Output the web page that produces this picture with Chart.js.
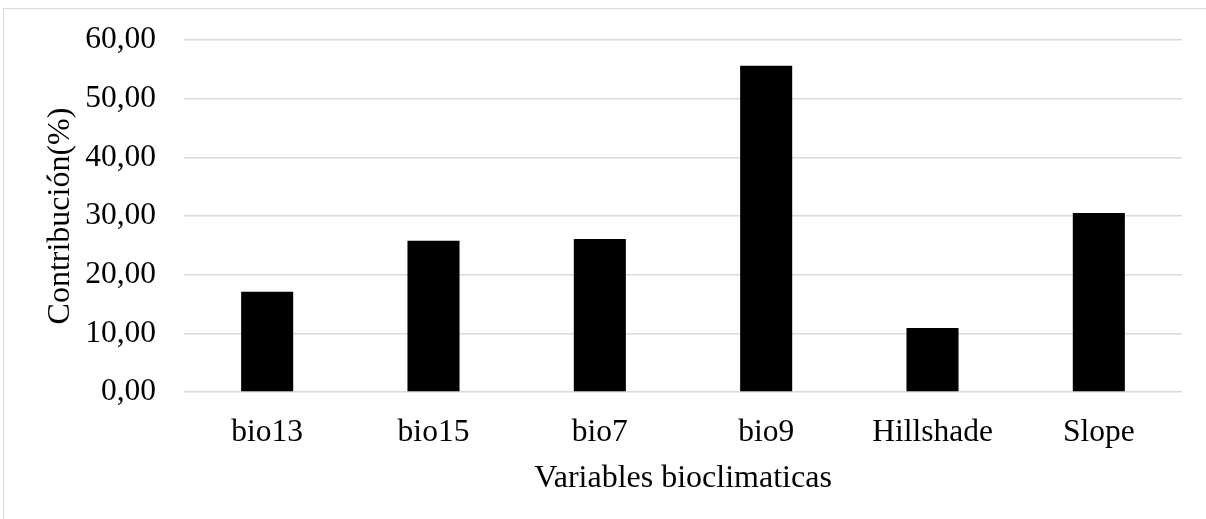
<!DOCTYPE html>
<html>
<head>
<meta charset="utf-8">
<script src="https://cdn.jsdelivr.net/npm/chart.js@4/dist/chart.umd.min.js"></script>
<style>
    html, body { margin: 0; padding: 0; background: #fff; overflow: hidden; }
    #wrap { position: relative; width: 1206px; height: 519px; }
    #frame {
        position: absolute; left: 3px; top: 8px; width: 1300px; height: 600px;
        border-top: 1px solid #d9d9d9; border-left: 1px solid #d9d9d9;
    }
    canvas { position: absolute; left: 0; top: 0; }
</style>
</head>
<body>
<div id="wrap">
    <div id="frame"></div>
    <canvas id="contribChart" width="1206" height="519"></canvas>
</div>
<script>
// Contribución de cada variable al modelo
const variables = ['bio13', 'bio15', 'bio7', 'bio9', 'Hillshade', 'Slope'];
const contribucion = [17.1, 25.8, 26.1, 55.6, 10.9, 30.5];
const yTicks = [0, 10, 20, 30, 40, 50, 60];

const serif = "'Liberation Serif', 'Times New Roman', serif";

document.addEventListener('DOMContentLoaded', function() {
    const ctx = document.getElementById('contribChart');

    new Chart(ctx, {
        type: 'bar',
        data: {
            labels: variables,
            datasets: [{
                label: 'Contribución(%)',
                data: contribucion,
                backgroundColor: '#000000',
                borderWidth: 0,
                categoryPercentage: 1,
                barPercentage: 0.313
            }]
        },
        options: {
            responsive: false,
            animation: false,
            layout: { padding: { top: 40, right: 24, left: 0, bottom: 0 } },
            plugins: {
                legend: { display: false },
                tooltip: { enabled: false }
            },
            scales: {
                x: {
                    grid: { display: false, drawTicks: false },
                    border: { display: false },
                    ticks: {
                        color: '#000',
                        padding: 22,
                        font: { family: serif, size: 31.5 }
                    },
                    title: {
                        display: true,
                        text: 'Variables bioclimaticas',
                        color: '#000',
                        font: { family: serif, size: 32 },
                        padding: { top: 0, bottom: 21 }
                    },
                    afterFit: function(scale) { scale.height = 127; }
                },
                y: {
                    min: 0,
                    max: 60,
                    grid: { color: '#d9d9d9', lineWidth: 1.5, drawTicks: false },
                    border: { display: false },
                    afterBuildTicks: function(scale) {
                        scale.ticks = yTicks.map(v => ({ value: v }));
                    },
                    ticks: {
                        color: '#000',
                        padding: 28,
                        font: { family: serif, size: 31.5 },
                        callback: function(value) {
                            return value.toFixed(2).replace('.', ',');
                        }
                    },
                    title: {
                        display: true,
                        text: 'Contribución(%)',
                        color: '#000',
                        font: { family: serif, size: 32 },
                        padding: { top: 41, bottom: 0 }
                    },
                    afterFit: function(scale) {
                        scale.width = 184;
                        // la etiqueta superior cabe en el margen fijo
                        scale.paddingTop = 0;
                        scale.paddingBottom = 0;
                    }
                }
            }
        }
    });
});
</script>
</body>
</html>
